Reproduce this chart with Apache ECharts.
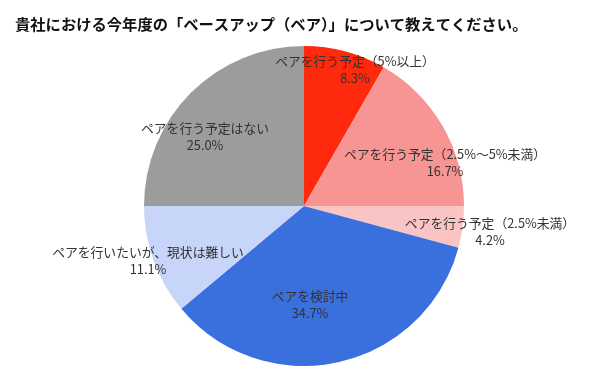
<!DOCTYPE html>
<html><head><meta charset="utf-8">
<script src="https://cdn.jsdelivr.net/npm/echarts@6/dist/echarts.min.js"></script>
<style>html,body{margin:0;padding:0;background:#fff}#c{width:615px;height:384px}</style>
</head><body><div id="c"></div>
<script>
const categories = ['ペアを行う予定（5%以上）','ペアを行う予定（2.5%〜5%未満）','ペアを行う予定（2.5%未満）','ペアを検討中','ペアを行いたいが、現状は難しい','ペアを行う予定はない'];
const values = [8.3, 16.7, 4.2, 34.7, 11.1, 25.0];
const valueLabels = ['8.3%','16.7%','4.2%','34.7%','11.1%','25.0%'];
const colors = ['#FF2A0D','#F79494','#F9C4C4','#3A6FDE','#C6D5F8','#9C9C9C'];
// label centres (x, y) in pixels, styling only
const labelPos = [[355,70],[445,163],[490,232],[310,305],[148,261],[205,137]];

const chart = echarts.init(document.getElementById('c'), null, {renderer:'canvas'});
chart.setOption({
  animation:false,
  title:{text:'貴社における今年度の「ベースアップ（ベア）」について教えてください。',left:10,top:12,
    textStyle:{fontFamily:'"Noto Sans CJK JP", sans-serif',fontSize:15.3,fontWeight:'bold',color:'#111'}},
  series:[{
    type:'pie',
    center:[304,206],
    radius:160,
    startAngle:90,
    clockwise:true,
    data:categories.map((n,i)=>({name:n,value:values[i],itemStyle:{color:colors[i]}})),
    label:{show:true,position:'inside',
      formatter:p=>p.name+'\n'+valueLabels[p.dataIndex],
      fontFamily:'"Noto Sans CJK JP", sans-serif',fontSize:12.8,color:'#333',lineHeight:17,align:'center',verticalAlign:'middle'},
    labelLine:{show:false},
    labelLayout:p=>({x:labelPos[p.dataIndex][0],y:labelPos[p.dataIndex][1],align:'center',verticalAlign:'middle'}),
    emphasis:{disabled:true}
  }]
});
</script></body></html>
